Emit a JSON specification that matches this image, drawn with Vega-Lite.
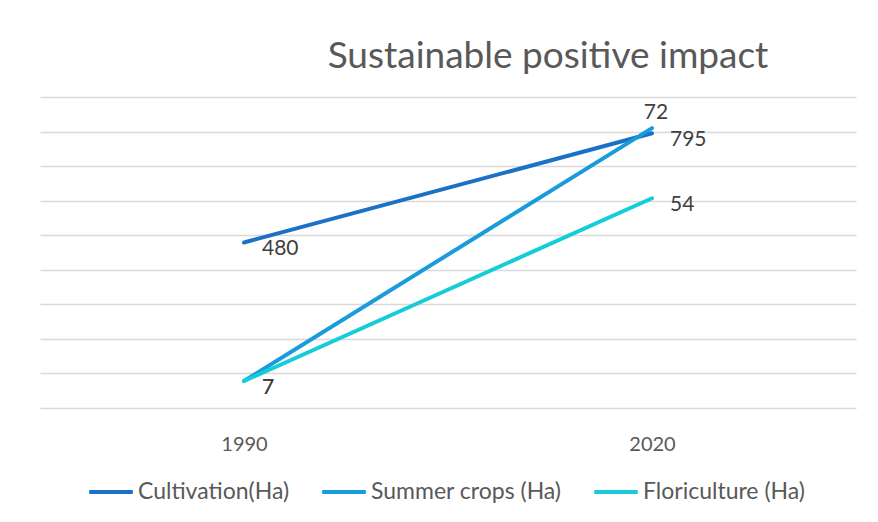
{
  "$schema": "https://vega.github.io/schema/vega-lite/v6.json",
  "width": 816,
  "height": 311,
  "autosize": {"type": "none"},
  "padding": {"left": 40, "top": 97, "right": 22, "bottom": 114},
  "background": "white",
  "view": {"stroke": null},
  "title": {
    "text": "Sustainable positive impact",
    "font": "Lato",
    "fontSize": 37,
    "fontWeight": "normal",
    "color": "#595959",
    "anchor": "middle",
    "dx": 100,
    "offset": 21
  },
  "data": {
    "values": [
      {"year": "1990", "series": "Cultivation(Ha)", "value": 4.79, "label": "480"},
      {"year": "2020", "series": "Cultivation(Ha)", "value": 7.95, "label": "795"},
      {"year": "1990", "series": "Summer crops (Ha)", "value": 0.78, "label": "7"},
      {"year": "2020", "series": "Summer crops (Ha)", "value": 8.1, "label": "72"},
      {"year": "1990", "series": "Floriculture (Ha)", "value": 0.78, "label": "7"},
      {"year": "2020", "series": "Floriculture (Ha)", "value": 6.07, "label": "54"}
    ]
  },
  "encoding": {
    "x": {
      "field": "year",
      "type": "ordinal",
      "scale": {"type": "point", "padding": 0.5},
      "axis": {
        "title": null,
        "domain": false,
        "ticks": false,
        "grid": false,
        "labelAngle": 0,
        "labelPadding": 26,
        "labelFont": "Lato",
        "labelFontSize": 20,
        "labelColor": "#595959"
      }
    },
    "y": {
      "field": "value",
      "type": "quantitative",
      "scale": {"domain": [0, 9]},
      "axis": {
        "title": null,
        "values": [0, 1, 2, 3, 4, 5, 6, 7, 8, 9],
        "labels": false,
        "ticks": false,
        "domain": false,
        "grid": true,
        "gridColor": "#D9D9D9",
        "gridWidth": 1.3
      }
    }
  },
  "layer": [
    {
      "mark": {"type": "line", "strokeWidth": 4, "strokeCap": "round"},
      "encoding": {
        "color": {
          "field": "series",
          "type": "nominal",
          "sort": ["Cultivation(Ha)", "Summer crops (Ha)", "Floriculture (Ha)"],
          "scale": {
            "domain": ["Cultivation(Ha)", "Summer crops (Ha)", "Floriculture (Ha)"],
            "range": ["#1B70C8", "#1A9CDB", "#14CDD8"]
          },
          "legend": {
            "title": null,
            "orient": "none",
            "legendX": 47,
            "legendY": 371,
            "direction": "horizontal",
            "gridAlign": "none",
            "symbolType": "stroke",
            "symbolStrokeWidth": 4,
            "symbolSize": 1900,
            "labelFont": "Lato",
            "labelFontSize": 23,
            "labelLimit": 0,
            "labelColor": "#595959",
            "labelOffset": 3,
            "columnPadding": 24
          }
        }
      }
    },
    {
      "transform": [{"filter": "datum.series !== 'Summer crops (Ha)' || datum.year !== '2020'"}],
      "mark": {"type": "text", "align": "left", "baseline": "middle", "dx": 18, "dy": 7, "font": "Lato", "fontSize": 21, "color": "#404040"},
      "encoding": {"text": {"field": "label"}}
    },
    {
      "transform": [{"filter": "datum.series === 'Summer crops (Ha)' && datum.year === '2020'"}],
      "mark": {"type": "text", "align": "center", "baseline": "middle", "dx": 4, "dy": -15, "font": "Lato", "fontSize": 21, "color": "#404040"},
      "encoding": {"text": {"field": "label"}}
    }
  ]
}
